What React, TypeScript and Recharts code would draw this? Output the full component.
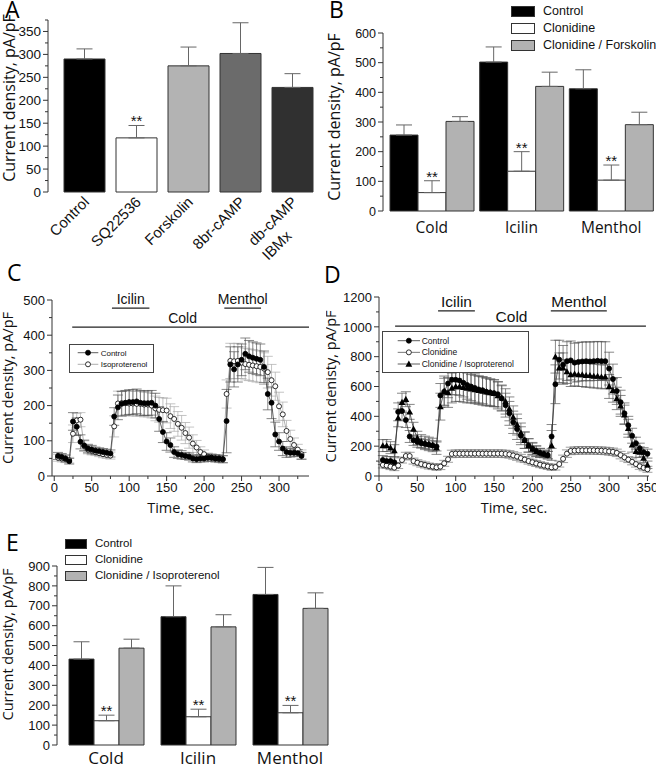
import React from 'react';
import {
  BarChart,
  Bar,
  LineChart,
  Line,
  XAxis,
  YAxis,
  ErrorBar,
  Cell,
  LabelList,
  Legend,
  ReferenceLine,
} from 'recharts';

const ARIAL = '"Liberation Sans", Arial, Helvetica, sans-serif';
const OPEN = '"Open Sans", "DejaVu Sans", sans-serif';
const INK = '#111';
const AXIS = '#333';
const TICK_GAP = 8; // tickSize 5 + tickMargin 3

// ---------- Panel A: current density per treatment
const aCategories = ['Control', 'SQ22536', 'Forskolin', '8br-cAMP', 'db-cAMP\nIBMx'];
const aValues = [290, 118, 275, 302, 228];
const aErrors = [22, 27, 41, 67, 30];
const aSignificant = [false, true, false, false, false];
const aYTicks = [0, 25, 50, 75, 100, 125, 150, 175, 200, 225, 250, 275, 300, 325, 350, 375];

// ---------- Panel B: clonidine / forskolin
const bStimuli = ['Cold', 'Icilin', 'Menthol'];
const bSeriesNames = ['Control', 'Clonidine', 'Clonidine / Forskolin'];
const bControl = [256, 502, 412];
const bControlErr = [34, 51, 64];
const bClonidine = [62, 134, 104];
const bClonidineErr = [40, 66, 51];
const bForskolin = [302, 420, 291];
const bForskolinErr = [16, 48, 42];
const bClonidineSig = [true, true, true];
const bYTicks = [0, 50, 100, 150, 200, 250, 300, 350, 400, 450, 500, 550, 600];

// ---------- Panel C: time course, control vs isoproterenol
const cTime = [5, 10, 15, 20, 25, 30, 35, 40, 45, 50, 55, 60, 65, 70, 75, 80, 85, 90, 95, 100, 105, 110, 115, 120, 125, 130, 135, 140, 145, 150, 155, 160, 165, 170, 175, 180, 185, 190, 195, 200, 205, 210, 215, 220, 225, 230, 235, 240, 245, 250, 255, 260, 265, 270, 275, 280, 285, 290, 295, 300, 305, 310, 315, 320, 325, 330];
const cControl = [57, 54, 50, 42, 155, 140, 97, 87, 78, 75, 72, 70, 68, 66, 64, 169, 195, 205, 208, 210, 210, 212, 208, 207, 207, 208, 200, 162, 125, 98, 88, 68, 62, 60, 57, 55, 50, 48, 50, 50, 52, 52, 50, 50, 48, 156, 317, 303, 317, 330, 347, 340, 336, 333, 330, 310, 233, 208, 118, 98, 78, 68, 66, 66, 65, 57];
const cControlErr = [10, 10, 10, 8, 25, 25, 20, 15, 12, 12, 10, 10, 10, 10, 10, 25, 35, 35, 35, 35, 35, 35, 35, 35, 35, 35, 35, 35, 30, 25, 20, 15, 12, 12, 10, 10, 10, 10, 10, 10, 10, 10, 10, 10, 10, 90, 50, 50, 50, 45, 45, 45, 45, 45, 45, 45, 45, 45, 35, 25, 20, 15, 12, 10, 10, 10];
const cIso = [52, 50, 48, 45, 120, 158, 160, 85, 75, 72, 68, 65, 62, 60, 58, 141, 206, 207, 207, 206, 206, 205, 205, 203, 203, 200, 192, 188, 187, 186, 170, 162, 148, 137, 122, 109, 92, 81, 68, 62, 55, 52, 50, 48, 47, 233, 327, 326, 327, 322, 318, 316, 314, 312, 310, 305, 295, 272, 255, 198, 175, 128, 105, 88, 75, 62];
const cIsoErr = [10, 10, 10, 8, 25, 20, 20, 15, 12, 12, 10, 10, 10, 10, 10, 30, 35, 35, 35, 35, 35, 35, 35, 35, 35, 35, 35, 35, 35, 35, 35, 35, 35, 35, 30, 30, 25, 20, 15, 12, 10, 10, 10, 10, 10, 40, 50, 50, 50, 45, 45, 45, 45, 45, 45, 45, 45, 45, 40, 40, 35, 30, 25, 20, 15, 12];
const cXTicks = [0, 25, 50, 75, 100, 125, 150, 175, 200, 225, 250, 275, 300, 325];
const cYTicks = [0, 50, 100, 150, 200, 250, 300, 350, 400, 450, 500];
const cStimuli = [
  { name: 'Icilin', start: 77, end: 127 },
  { name: 'Menthol', start: 227, end: 276 },
];
const cCold = { name: 'Cold', start: 24, end: 340 };

// ---------- Panel D: time course, control / clonidine / clonidine + isoproterenol
const dTime = [5, 10, 15, 20, 25, 30, 35, 40, 45, 50, 55, 60, 65, 70, 75, 80, 85, 90, 95, 100, 105, 110, 115, 120, 125, 130, 135, 140, 145, 150, 155, 160, 165, 170, 175, 180, 185, 190, 195, 200, 205, 210, 215, 220, 225, 230, 235, 240, 245, 250, 255, 260, 265, 270, 275, 280, 285, 290, 295, 300, 305, 310, 315, 320, 325, 330, 335, 340, 345, 350];
const dControl = [107, 100, 100, 92, 430, 435, 375, 265, 240, 228, 220, 215, 210, 205, 198, 540, 565, 620, 645, 645, 640, 625, 610, 600, 590, 580, 575, 565, 560, 555, 548, 520, 475, 420, 360, 315, 270, 240, 205, 185, 168, 155, 148, 140, 265, 615, 780, 745, 770, 775, 760, 765, 768, 770, 768, 770, 772, 770, 770, 720, 650, 570, 495, 420, 340, 270, 220, 185, 160, 150];
const dControlErr = [30, 30, 30, 30, 60, 60, 50, 40, 35, 35, 30, 30, 30, 30, 30, 80, 90, 95, 100, 100, 100, 95, 95, 95, 95, 90, 90, 90, 90, 90, 85, 85, 80, 80, 75, 70, 60, 55, 45, 40, 35, 30, 25, 25, 80, 130, 130, 130, 130, 130, 130, 130, 130, 130, 130, 130, 130, 130, 130, 110, 100, 90, 80, 70, 60, 50, 40, 35, 30, 30];
const dClonidine = [74, 70, 63, 56, 70, 107, 134, 134, 100, 89, 80, 74, 67, 63, 58, 63, 85, 112, 148, 150, 150, 150, 150, 150, 150, 150, 150, 150, 150, 150, 150, 150, 148, 145, 138, 130, 120, 110, 100, 92, 84, 76, 70, 64, 58, 60, 80, 115, 150, 168, 170, 172, 172, 172, 172, 172, 170, 170, 168, 165, 162, 155, 140, 125, 110, 95, 80, 65, 55, 45];
const dClonidineErr = [20, 20, 20, 20, 20, 20, 25, 25, 20, 20, 20, 20, 20, 20, 20, 20, 20, 20, 25, 25, 25, 25, 25, 25, 25, 25, 25, 25, 25, 25, 25, 25, 25, 25, 25, 25, 25, 20, 20, 20, 20, 20, 20, 20, 20, 20, 20, 25, 25, 25, 25, 25, 25, 25, 25, 25, 25, 25, 25, 25, 25, 25, 25, 25, 20, 20, 20, 20, 20, 20];
const dClonIso = [204, 204, 190, 170, 390, 495, 515, 430, 315, 255, 232, 222, 215, 208, 190, 465, 570, 560, 590, 600, 600, 595, 590, 585, 580, 575, 570, 565, 560, 555, 540, 525, 500, 450, 395, 345, 290, 240, 205, 180, 165, 155, 148, 140, 205, 800, 725, 725, 700, 680, 685, 680, 680, 675, 675, 670, 670, 665, 665, 600, 575, 520, 470, 410, 320, 210, 165, 160, 120, 75];
const dClonIsoErr = [40, 40, 40, 40, 60, 60, 50, 50, 45, 45, 45, 45, 45, 45, 45, 90, 100, 100, 100, 100, 100, 100, 100, 95, 95, 95, 95, 95, 90, 90, 90, 85, 85, 80, 75, 70, 65, 55, 45, 40, 35, 30, 25, 25, 100, 110, 100, 100, 80, 80, 80, 80, 80, 80, 80, 80, 80, 80, 80, 80, 80, 75, 70, 65, 60, 50, 40, 35, 30, 25];
const dXTicks = [0, 25, 50, 75, 100, 125, 150, 175, 200, 225, 250, 275, 300, 325, 350];
const dYTicks = [0, 100, 200, 300, 400, 500, 600, 700, 800, 900, 1000, 1100, 1200];
const dStimuli = [
  { name: 'Icilin', start: 77, end: 125 },
  { name: 'Menthol', start: 224, end: 297 },
];
const dCold = { name: 'Cold', start: 21, end: 348 };

// ---------- Panel E: clonidine / isoproterenol
const eStimuli = ['Cold', 'Icilin', 'Menthol'];
const eSeriesNames = ['Control', 'Clonidine', 'Clonidine / Isoproterenol'];
const eControl = [432, 645, 757];
const eControlErr = [87, 155, 136];
const eClonidine = [122, 142, 162];
const eClonidineErr = [28, 38, 37];
const eIso = [487, 594, 687];
const eIsoErr = [45, 61, 78];
const eClonidineSig = [true, true, true];
const eYTicks = [0, 50, 100, 150, 200, 250, 300, 350, 400, 450, 500, 550, 600, 650, 700, 750, 800, 850, 900];

const BAR_FILLS = ['#000000', '#ffffff', '#b2b2b2'];

// ---------- shared bits
const yTick = (majorStep: number, fontSize: number) => (p: any) => {
  const v = Number(p.payload.value);
  const ax = p.x + TICK_GAP;
  const major = v % majorStep === 0;
  return (
    <g>
      <line x1={ax - (major ? 5 : 3)} x2={ax} y1={p.y} y2={p.y} stroke={AXIS} strokeWidth={1} />
      {major && (
        <text x={ax - 7} y={p.y} dy="0.36em" textAnchor="end" fontSize={fontSize} fontFamily={ARIAL} fill={INK}>
          {v}
        </text>
      )}
    </g>
  );
};

const xTick = (majorStep: number, fontSize: number) => (p: any) => {
  const v = Number(p.payload.value);
  const ay = p.y - TICK_GAP;
  const major = v % majorStep === 0;
  return (
    <g>
      <line x1={p.x} x2={p.x} y1={ay} y2={ay + (major ? 5 : 3)} stroke={AXIS} strokeWidth={1} />
      {major && (
        <text x={p.x} y={ay + 7} dy="0.72em" textAnchor="middle" fontSize={fontSize} fontFamily={ARIAL} fill={INK}>
          {v}
        </text>
      )}
    </g>
  );
};

const rotatedTick = (p: any) => {
  const lines = String(p.payload.value).split('\n');
  return (
    <g transform={`translate(${p.x + 6},${p.y + 11})`}>
      <g transform="rotate(-45)">
        <text x={0} y={0} textAnchor="end" fontSize={15} fontFamily={ARIAL} fill={INK}>
          {lines[0]}
        </text>
        {lines[1] && (
          <text x={-62} y={20} textAnchor="start" fontSize={15} fontFamily={ARIAL} fill={INK}>
            {lines[1]}
          </text>
        )}
      </g>
    </g>
  );
};

// ** above the error bar of significant bars
const starLabel = (values: number[], errors: number[], sig: boolean[]) => (p: any) => {
  const vb = p.viewBox ?? p;
  const i = p.index;
  if (!sig[i] || vb == null) return null;
  const h = Math.abs(vb.height);
  const top = Math.min(vb.y, vb.y + vb.height) - (errors[i] * h) / values[i];
  return (
    <text key={`s-${i}`} x={vb.x + vb.width / 2} y={top + 1} textAnchor="middle" fontSize={15} fontFamily={ARIAL} fill={INK}>
      **
    </text>
  );
};

function Marker({ kind, cx, cy }: { kind: string; cx: number; cy: number }) {
  if (cx == null || cy == null) return null;
  if (kind === 'tri') {
    const s = 3.4;
    return <path d={`M${cx},${cy - s} L${cx + s},${cy + s * 0.8} L${cx - s},${cy + s * 0.8} Z`} fill="#000" />;
  }
  return <circle cx={cx} cy={cy} r={2.5} fill={kind === 'filled' ? '#000' : '#fff'} stroke="#000" strokeWidth={0.8} />;
}

const dotFn = (kind: string) => (p: any) => <Marker key={`d-${p.index}`} kind={kind} cx={p.cx} cy={p.cy} />;

function SwatchLegend({ names, fontSize, swatchW, swatchH, rowH }: any) {
  return (
    <div style={{ fontFamily: ARIAL, fontSize, color: INK }}>
      {names.map((n: string, i: number) => (
        <div key={n} style={{ display: 'flex', alignItems: 'center', height: rowH }}>
          <span
            style={{
              display: 'inline-block',
              width: swatchW,
              height: swatchH,
              background: BAR_FILLS[i],
              border: '1px solid #333',
              boxSizing: 'border-box',
              marginRight: 8,
            }}
          />
          <span style={{ whiteSpace: 'nowrap', lineHeight: 1 }}>{n}</span>
        </div>
      ))}
    </div>
  );
}

function LineLegend({ entries, width, height, top, rowH, x1, x2, textX, fontSize }: any) {
  return (
    <svg width={width} height={height} style={{ display: 'block' }}>
      <rect x={0.5} y={0.5} width={width - 1} height={height - 1} fill="#fff" stroke="#444" />
      {entries.map((e: any, i: number) => {
        const y = top + i * rowH;
        return (
          <g key={e.name}>
            <line x1={x1} x2={x2} y1={y} y2={y} stroke={e.line} strokeWidth={0.8} />
            <Marker kind={e.kind} cx={(x1 + x2) / 2} cy={y} />
            <text x={textX} y={y} dy="0.35em" fontSize={fontSize} fontFamily={ARIAL} fill={INK}>
              {e.name}
            </text>
          </g>
        );
      })}
    </svg>
  );
}

function yTitle(value: string, fontSize: number, offset: number, dy: number) {
  return {
    value,
    angle: -90,
    position: 'insideLeft' as const,
    offset,
    dy,
    style: { textAnchor: 'middle' as const, fontFamily: OPEN, fontSize, fill: INK },
  };
}

// ---------- panels
function PanelA() {
  const data = aCategories.map((name, i) => ({ name, value: aValues[i], err: [0, aErrors[i]] }));
  const fills = ['#000000', '#ffffff', '#b3b3b3', '#6b6b6b', '#303030'];
  return (
    <BarChart width={320} height={262} data={data} margin={{ top: 20, right: 2, bottom: 0, left: 0 }}>
      <XAxis
        dataKey="name"
        interval={0}
        axisLine={false}
        tickLine={false}
        tickSize={0}
        tickMargin={0}
        height={70}
        padding={{ left: 10, right: 0 }}
        tick={rotatedTick}
      />
      <YAxis
        type="number"
        domain={[0, 375]}
        ticks={aYTicks}
        interval={0}
        width={48}
        tickSize={5}
        tickMargin={3}
        tickLine={false}
        axisLine={{ stroke: AXIS }}
        tick={yTick(50, 13.5)}
        label={yTitle('Current density, pA/pF', 16, 9, -8)}
      />
      <Bar dataKey="value" barSize={41} stroke="#333" strokeWidth={1} isAnimationActive={false}>
        {data.map((d, i) => (
          <Cell key={d.name} fill={fills[i]} />
        ))}
        <ErrorBar dataKey="err" width={8} stroke="#666" strokeWidth={1} direction="y" />
        <LabelList dataKey="value" content={starLabel(aValues, aErrors, aSignificant)} />
      </Bar>
    </BarChart>
  );
}

function GroupedBars(props: any) {
  const { width, height, margin, plotH, stimuli, names, values, errors, sig, yDomain, yTicks, yMajor, yWidth, tickFont, catFont,
    catMargin, titleFont, titleOffset, titleDy, barSize, padLeft, legendStyle, legendFont, swatchW, swatchH, rowH } = props;
  const data = stimuli.map((s: string, i: number) => ({
    name: s,
    v0: values[0][i],
    e0: [0, errors[0][i]],
    v1: values[1][i],
    e1: [0, errors[1][i]],
    v2: values[2][i],
    e2: [0, errors[2][i]],
  }));
  return (
    <BarChart width={width} height={height} data={data} margin={margin} barGap={0}>
      <XAxis
        dataKey="name"
        interval={0}
        axisLine={false}
        tickLine={false}
        tickSize={0}
        tickMargin={catMargin}
        height={height - margin.top - margin.bottom - plotH}
        padding={{ left: padLeft, right: 0 }}
        tick={{ fontSize: catFont, fontFamily: OPEN, fill: INK }}
      />
      <YAxis
        type="number"
        domain={yDomain}
        ticks={yTicks}
        interval={0}
        width={yWidth}
        tickSize={5}
        tickMargin={3}
        tickLine={false}
        axisLine={{ stroke: AXIS }}
        tick={yTick(yMajor, tickFont)}
        label={yTitle('Current density, pA/pF', titleFont, titleOffset, titleDy)}
      />
      <Legend
        layout="vertical"
        align="center"
        verticalAlign="middle"
        wrapperStyle={legendStyle}
        content={() => <SwatchLegend names={names} fontSize={legendFont} swatchW={swatchW} swatchH={swatchH} rowH={rowH} />}
      />
      {[0, 1, 2].map((k) => (
        <Bar
          key={k}
          dataKey={`v${k}`}
          name={names[k]}
          fill={BAR_FILLS[k]}
          barSize={barSize}
          stroke="#333"
          strokeWidth={1}
          isAnimationActive={false}
        >
          <ErrorBar dataKey={`e${k}`} width={8} stroke="#666" strokeWidth={1} direction="y" />
          {k === 1 && <LabelList dataKey="v1" content={starLabel(values[1], errors[1], sig)} />}
        </Bar>
      ))}
    </BarChart>
  );
}

function PanelB() {
  return (
    <GroupedBars
      width={330}
      height={240}
      margin={{ top: 33, right: 0, bottom: 0, left: 0 }}
      plotH={178}
      stimuli={bStimuli}
      names={bSeriesNames}
      values={[bControl, bClonidine, bForskolin]}
      errors={[bControlErr, bClonidineErr, bForskolinErr]}
      sig={bClonidineSig}
      yDomain={[0, 600]}
      yTicks={bYTicks}
      yMajor={100}
      yWidth={57}
      tickFont={12.5}
      catFont={15.5}
      catMargin={11}
      titleFont={16}
      titleOffset={8}
      titleDy={-5}
      barSize={28}
      padLeft={4}
      legendStyle={{ left: 185, top: 3, width: 150 }}
      legendFont={12.5}
      swatchW={24}
      swatchH={11.5}
      rowH={17}
    />
  );
}

function PanelE() {
  return (
    <GroupedBars
      width={340}
      height={244}
      margin={{ top: 46, right: 4, bottom: 0, left: 0 }}
      plotH={179}
      stimuli={eStimuli}
      names={eSeriesNames}
      values={[eControl, eClonidine, eIso]}
      errors={[eControlErr, eClonidineErr, eIsoErr]}
      sig={eClonidineSig}
      yDomain={[0, 900]}
      yTicks={eYTicks}
      yMajor={100}
      yWidth={57}
      tickFont={13}
      catFont={17}
      catMargin={7}
      titleFont={14.5}
      titleOffset={8}
      titleDy={-11}
      barSize={25}
      padLeft={3}
      legendStyle={{ left: 65, top: 16, width: 200 }}
      legendFont={11.5}
      swatchW={22}
      swatchH={9.5}
      rowH={16}
    />
  );
}

function TimeCourse(props: any) {
  const { width, height, margin, data, series, xDomain, xTicks, yDomain, yTicks, yMajor, yWidth, stimuli, cold, agonistLevel,
    coldLevel, stimFont, coldDx, title, titleOffset, legend } = props;
  return (
    <LineChart width={width} height={height} data={data} margin={margin}>
      <XAxis
        dataKey="t"
        type="number"
        domain={xDomain}
        ticks={xTicks}
        interval={0}
        height={44}
        tickSize={5}
        tickMargin={3}
        tickLine={false}
        axisLine={{ stroke: AXIS }}
        tick={xTick(50, 13)}
        label={{ value: 'Time, sec.', position: 'insideBottom', offset: 7, style: { fontFamily: OPEN, fontSize: 14.5, fill: INK } }}
      />
      <YAxis
        type="number"
        domain={yDomain}
        ticks={yTicks}
        interval={0}
        width={yWidth}
        tickSize={5}
        tickMargin={3}
        tickLine={false}
        axisLine={{ stroke: AXIS }}
        tick={yTick(yMajor, 13)}
        label={yTitle(title, 14.5, titleOffset, 0)}
      />
      <Legend
        layout="vertical"
        align="center"
        verticalAlign="middle"
        wrapperStyle={legend.style}
        content={() => <LineLegend entries={series} {...legend.box} />}
      />
      <ReferenceLine
        segment={[{ x: cold.start, y: coldLevel }, { x: cold.end, y: coldLevel }]}
        stroke="#222"
        strokeWidth={1.2}
        ifOverflow="visible"
        label={{ value: cold.name, position: 'top', offset: 4, dx: coldDx, fill: INK, fontSize: stimFont, fontFamily: ARIAL }}
      />
      {stimuli.map((s: any) => (
        <ReferenceLine
          key={s.name}
          segment={[{ x: s.start, y: agonistLevel }, { x: s.end, y: agonistLevel }]}
          stroke="#222"
          strokeWidth={1.2}
          ifOverflow="visible"
          label={{ value: s.name, position: 'top', offset: 4, fill: INK, fontSize: stimFont, fontFamily: ARIAL }}
        />
      ))}
      {series.map((s: any) => (
        <Line
          key={s.key}
          type="linear"
          dataKey={s.key}
          name={s.name}
          stroke={s.line}
          strokeWidth={0.8}
          dot={dotFn(s.kind)}
          activeDot={false}
          isAnimationActive={false}
        >
          <ErrorBar dataKey={s.errKey} width={5} stroke={s.err} strokeWidth={0.7} direction="y" />
        </Line>
      ))}
    </LineChart>
  );
}

function PanelC() {
  const data = cTime.map((t, i) => ({ t, ctrl: cControl[i], ctrlErr: cControlErr[i], iso: cIso[i], isoErr: cIsoErr[i] }));
  const series = [
    { key: 'iso', errKey: 'isoErr', name: 'Isoproterenol', kind: 'open', line: '#999', err: '#aaa' },
    { key: 'ctrl', errKey: 'ctrlErr', name: 'Control', kind: 'filled', line: '#333', err: '#555' },
  ];
  const legendSeries = [series[1], series[0]];
  return (
    <TimeCourse
      width={318}
      height={265}
      margin={{ top: 45, right: 9, bottom: 0, left: 0 }}
      data={data}
      series={series}
      xDomain={[-3, 340]}
      xTicks={cXTicks}
      yDomain={[0, 500]}
      yTicks={cYTicks}
      yMajor={100}
      yWidth={52}
      stimuli={cStimuli}
      cold={cCold}
      agonistLevel={477}
      coldLevel={423}
      stimFont={14}
      coldDx={-8}
      title="Current density, pA/pF"
      titleOffset={8}
      legend={{
        style: { left: 69, top: 89, width: 85 },
        box: { width: 85, height: 29, top: 8.7, rowH: 11.6, x1: 8.7, x2: 29.3, textX: 31.7, fontSize: 8, entries: legendSeries },
      }}
    />
  );
}

function PanelD() {
  const data = dTime.map((t, i) => ({
    t,
    ctrl: dControl[i],
    ctrlErr: dControlErr[i],
    clo: dClonidine[i],
    cloErr: dClonidineErr[i],
    ci: dClonIso[i],
    ciErr: dClonIsoErr[i],
  }));
  const series = [
    { key: 'clo', errKey: 'cloErr', name: 'Clonidine', kind: 'open', line: '#555', err: '#777' },
    { key: 'ci', errKey: 'ciErr', name: 'Clonidine / Isoproterenol', kind: 'tri', line: '#333', err: '#555' },
    { key: 'ctrl', errKey: 'ctrlErr', name: 'Control', kind: 'filled', line: '#333', err: '#555' },
  ];
  const legendSeries = [series[2], series[0], series[1]];
  return (
    <TimeCourse
      width={330}
      height={265}
      margin={{ top: 42, right: 7, bottom: 0, left: 0 }}
      data={data}
      series={series}
      xDomain={[0, 352]}
      xTicks={dXTicks}
      yDomain={[0, 1200]}
      yTicks={dYTicks}
      yMajor={200}
      yWidth={53}
      stimuli={dStimuli}
      cold={dCold}
      agonistLevel={1107}
      coldLevel={1005}
      stimFont={15.5}
      coldDx={-9}
      title="Current denisty, pA/pF"
      titleOffset={5}
      legend={{
        style: { left: 56, top: 76, width: 147 },
        box: { width: 147, height: 42, top: 9.7, rowH: 11.65, x1: 15.7, x2: 38, textX: 39.7, fontSize: 8.5, entries: legendSeries },
      }}
    />
  );
}

function Letter({ ch, left, top }: { ch: string; left: number; top: number }) {
  return (
    <div style={{ position: 'absolute', left, top, fontFamily: OPEN, fontSize: 23, lineHeight: 1, color: '#000' }}>{ch}</div>
  );
}

export default function App() {
  return (
    <div style={{ position: 'absolute', left: 0, top: 0, width: 656, height: 764, background: '#fff', overflow: 'hidden' }}>
      <div style={{ position: 'absolute', left: 0, top: 255 }}>
        <PanelC />
      </div>
      <div style={{ position: 'absolute', left: 326, top: 255 }}>
        <PanelD />
      </div>
      <div style={{ position: 'absolute', left: 0, top: 0 }}>
        <PanelA />
      </div>
      <div style={{ position: 'absolute', left: 326, top: 0 }}>
        <PanelB />
      </div>
      <div style={{ position: 'absolute', left: 0, top: 520 }}>
        <PanelE />
      </div>
      <Letter ch="A" left={5} top={-2} />
      <Letter ch="B" left={329} top={-2} />
      <Letter ch="C" left={7} top={261} />
      <Letter ch="D" left={324} top={263} />
      <Letter ch="E" left={6} top={531} />
    </div>
  );
}
